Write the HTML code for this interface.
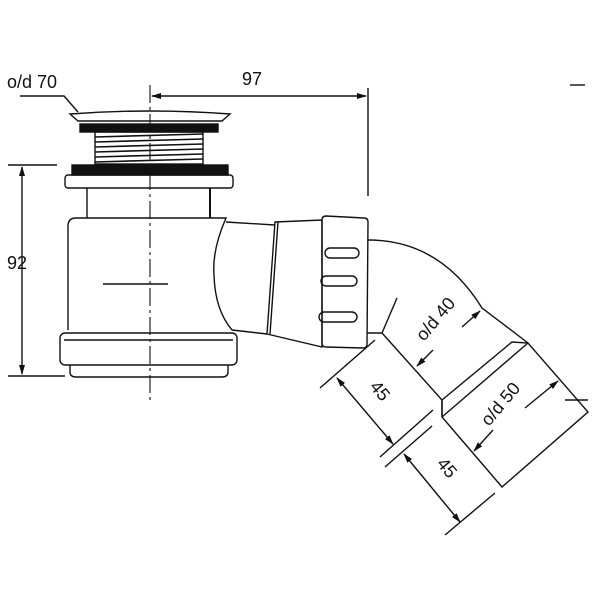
<!DOCTYPE html>
<html><head><meta charset="utf-8"><style>html,body{margin:0;padding:0;background:#fff}svg{display:block}</style></head>
<body>
<svg width="600" height="600" viewBox="0 0 600 600" xmlns="http://www.w3.org/2000/svg" font-family="Liberation Sans, sans-serif" fill="none" stroke="#111" stroke-width="1.4">
<defs>
<marker id="a" markerWidth="10" markerHeight="6" refX="9" refY="3" orient="auto" markerUnits="userSpaceOnUse"><path d="M0,0 L10,3 L0,6 Z" fill="#111" stroke="none"/></marker>
</defs>
<line x1="8" y1="165" x2="57" y2="165"/>
<line x1="8" y1="376" x2="65" y2="376"/>
<line x1="22" y1="270" x2="22" y2="167" marker-end="url(#a)"/>
<line x1="22" y1="270" x2="22" y2="374" marker-end="url(#a)"/>
<text x="7" y="269" font-size="18" fill="#111" stroke="none">92</text>
<line x1="260" y1="96" x2="152" y2="96" marker-end="url(#a)"/>
<line x1="260" y1="96" x2="366" y2="96" marker-end="url(#a)"/>
<line x1="368" y1="88" x2="368" y2="196"/>
<text x="242" y="85" font-size="18" fill="#111" stroke="none">97</text>
<text x="7" y="88" font-size="18" fill="#111" stroke="none">o/d 70</text>
<polyline points="20,96 64,96 78,112"/>
<line x1="150" y1="85" x2="150" y2="400" stroke-dasharray="18,4,3,4" stroke-width="1.1"/>
<path d="M70,114 Q150,108 230,114 L222,121 L78,121 Z"/>
<rect x="80" y="124" width="138" height="8" fill="#111"/>
<rect x="95" y="132" width="108" height="32"/>
<g stroke-width="1.6">
<line x1="95" y1="137" x2="203" y2="134"/><line x1="95" y1="142" x2="203" y2="139"/>
<line x1="95" y1="147" x2="203" y2="144"/><line x1="95" y1="152" x2="203" y2="149"/>
<line x1="95" y1="157" x2="203" y2="154"/><line x1="95" y1="162" x2="203" y2="159"/>
</g>
<rect x="72" y="165" width="156" height="10" fill="#111"/>
<rect x="65" y="175" width="168" height="13" rx="3"/>
<line x1="87" y1="188" x2="87" y2="218"/>
<line x1="210" y1="188" x2="210" y2="218" stroke-width="2"/>
<path d="M68,330 L68,226 Q68,218 76,218 L226,218 Q212,250 214,275 Q215,310 232,330"/>
<line x1="103" y1="284" x2="168" y2="284"/>
<rect x="60" y="333" width="177" height="32" rx="5"/>
<line x1="64" y1="340" x2="233" y2="340"/>
<path d="M70,365 L70,372 Q70,377 76,377 L222,377 Q228,377 228,372 L228,365"/>
<path d="M226,222 L275,225"/>
<path d="M232,330 L267,334"/>
<path d="M275,222 L322,220 L322,347 L267,334 Z"/>
<line x1="278" y1="222" x2="270" y2="334"/>
<path d="M322,220 Q322,216 326,216 L364,218 Q368,218 368,222 L367,344 Q367,348 363,348 L326,347 Q322,347 322,343 Z"/>
<rect x="325" y="248" width="34" height="10" rx="5"/>
<rect x="321" y="276" width="36" height="10" rx="5"/>
<rect x="319" y="312" width="38" height="10" rx="5"/>
<path d="M368,240 Q440,240 482,308 L528,343"/>
<path d="M367,333 L382,333 L442,400 L442,417"/>
<line x1="382" y1="333" x2="397" y2="298"/>
<path d="M442,400 L512,342 L528,343 L588,412 L502,487 L442,417 Z"/>
<line x1="442" y1="417" x2="528" y2="343"/>
<line x1="320" y1="388" x2="375" y2="340"/>
<line x1="380" y1="457" x2="433" y2="410"/>
<line x1="365" y1="411" x2="337" y2="378" marker-end="url(#a)"/>
<line x1="365" y1="411" x2="393" y2="444" marker-end="url(#a)"/>
<text x="0" y="0" font-size="18" fill="#111" stroke="none" transform="translate(369,387) rotate(50)">45</text>
<line x1="385" y1="467" x2="432" y2="426"/>
<line x1="445" y1="535" x2="495" y2="493"/>
<line x1="432" y1="488" x2="404" y2="454" marker-end="url(#a)"/>
<line x1="432" y1="488" x2="460" y2="522" marker-end="url(#a)"/>
<text x="0" y="0" font-size="18" fill="#111" stroke="none" transform="translate(436,464) rotate(50)">45</text>
<text x="0" y="0" font-size="18" fill="#111" stroke="none" transform="translate(424,342) rotate(-50)">o/d 40</text>
<line x1="462" y1="327" x2="480" y2="311" marker-end="url(#a)"/>
<line x1="433" y1="350" x2="417" y2="366" marker-end="url(#a)"/>
<text x="0" y="0" font-size="18" fill="#111" stroke="none" transform="translate(489,427) rotate(-50)">o/d 50</text>
<line x1="525" y1="408" x2="558" y2="381" marker-end="url(#a)"/>
<line x1="493" y1="430" x2="474" y2="451" marker-end="url(#a)"/>
<line x1="565" y1="400" x2="588" y2="400"/>
<line x1="570" y1="85" x2="585" y2="85"/>
</svg>
</body></html>
